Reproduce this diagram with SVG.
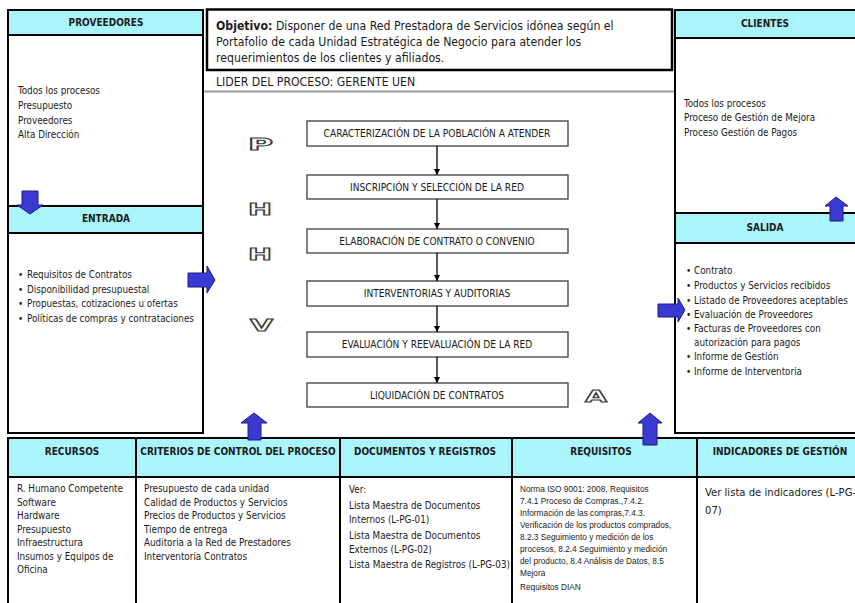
<svg xmlns="http://www.w3.org/2000/svg" width="855" height="603" viewBox="0 0 855 603">
  <style>
    .txt { font-family: "DejaVu Sans Condensed", "DejaVu Sans", sans-serif; font-size: 9.8px; fill: #1b1b1b; }
    .hdr { font-family: "DejaVu Sans Condensed", "DejaVu Sans", sans-serif; font-size: 10px; font-weight: bold; fill: #1b1b1b; text-anchor: middle; }
    .obj { font-family: "DejaVu Sans Condensed", "DejaVu Sans", sans-serif; font-size: 12.2px; fill: #1b1b1b; }
    .step { font-family: "DejaVu Sans Condensed", "DejaVu Sans", sans-serif; font-size: 10.1px; fill: #1b1b1b; text-anchor: middle; }
    .req { font-family: "Liberation Sans", Arial, sans-serif; font-size: 8.3px; fill: #1b1b1b; }
    .ind { font-family: "DejaVu Sans Condensed", "DejaVu Sans", sans-serif; font-size: 11.2px; fill: #1b1b1b; }
    .box { fill: #ffffff; stroke: #000000; stroke-width: 2; }
    .head { fill: #aaf4fc; stroke: #000000; stroke-width: 2; }
    .stepbox { fill: #ffffff; stroke: #4a4a4a; stroke-width: 1.4; }
    .flow { stroke: #000000; stroke-width: 1.3; fill: none; }
    .blk { fill: #3a3ad2; stroke: #1c1c8c; stroke-width: 1; }
    .phva { font-family: "DejaVu Sans", sans-serif; font-weight: bold; font-size: 16px; fill: #ffffff; stroke: #3a3a3a; stroke-width: 1; }
  </style>
  <defs>
    <marker id="tip" viewBox="0 0 10 10" refX="10" refY="5" markerWidth="6" markerHeight="6" orient="auto" markerUnits="userSpaceOnUse">
      <path d="M0,0 L10,5 L0,10 Z" fill="#000000"/>
    </marker>
  </defs>

  <rect width="855" height="603" fill="#ffffff"/>

  <!-- supplier / input column -->
  <g id="proveedores">
    <rect class="box" x="8" y="10" width="195" height="196"/>
    <rect class="head" x="8" y="10" width="195" height="25"/>
    <text class="hdr" x="106" y="26">PROVEEDORES</text>
    <text class="txt" x="18" y="94">Todos los procesos</text>
    <text class="txt" x="18" y="109">Presupuesto</text>
    <text class="txt" x="18" y="123.5">Proveedores</text>
    <text class="txt" x="18" y="138">Alta Dirección</text>
  </g>
  <g id="entrada">
    <rect class="box" x="8" y="206" width="195" height="227"/>
    <rect class="head" x="8" y="206" width="195" height="27"/>
    <text class="hdr" x="106" y="222">ENTRADA</text>
    <g class="txt">
      <text x="18" y="278">•</text><text x="27" y="278">Requisitos de Contratos</text>
      <text x="18" y="292.5">•</text><text x="27" y="292.5">Disponibilidad presupuestal</text>
      <text x="18" y="307">•</text><text x="27" y="307">Propuestas, cotizaciones u ofertas</text>
      <text x="18" y="322">•</text><text x="27" y="322">Políticas de compras y contrataciones</text>
    </g>
  </g>

  <!-- customer / output column -->
  <g id="clientes">
    <rect class="box" x="675" y="10" width="185" height="203"/>
    <rect class="head" x="675" y="10" width="185" height="28"/>
    <text class="hdr" x="765" y="27">CLIENTES</text>
    <text class="txt" x="684" y="106.5">Todos los procesos</text>
    <text class="txt" x="684" y="121">Proceso de Gestión de Mejora</text>
    <text class="txt" x="684" y="136">Proceso Gestión de Pagos</text>
  </g>
  <g id="salida">
    <rect class="box" x="675" y="213" width="185" height="220"/>
    <rect class="head" x="675" y="213" width="185" height="30"/>
    <text class="hdr" x="765" y="231">SALIDA</text>
    <g class="txt">
      <text x="686" y="274">•</text><text x="694" y="274">Contrato</text>
      <text x="686" y="289">•</text><text x="694" y="289">Productos y Servicios recibidos</text>
      <text x="686" y="304">•</text><text x="694" y="304">Listado de Proveedores aceptables</text>
      <text x="686" y="318">•</text><text x="694" y="318">Evaluación de Proveedores</text>
      <text x="686" y="332">•</text><text x="694" y="332">Facturas de Proveedores con</text>
      <text x="694" y="346">autorización para pagos</text>
      <text x="686" y="360">•</text><text x="694" y="360">Informe de Gestión</text>
      <text x="686" y="375">•</text><text x="694" y="375">Informe de Interventoria</text>
    </g>
  </g>

  <!-- objective and process owner -->
  <g id="objetivo">
    <rect x="207" y="9.5" width="465" height="60.5" fill="#ffffff" stroke="#000000" stroke-width="2.5"/>
    <text class="obj" x="216" y="30"><tspan font-weight="bold">Objetivo:</tspan> Disponer de una Red Prestadora de Servicios idónea según el</text>
    <text class="obj" x="216" y="46">Portafolio de cada Unidad Estratégica de Negocio para atender los</text>
    <text class="obj" x="216" y="62">requerimientos de los clientes y afiliados.</text>
  </g>
  <g id="lider">
    <text class="obj" x="216" y="86">LIDER DEL PROCESO: GERENTE UEN</text>
    <line x1="204" y1="91.5" x2="674" y2="91.5" stroke="#9a9a9a" stroke-width="2"/>
  </g>

  <!-- process steps -->
  <g id="paso1"><rect class="stepbox" x="307" y="121" width="261" height="25"/><text class="step" x="437" y="137">CARACTERIZACIÓN DE LA POBLACIÓN A ATENDER</text></g>
  <g id="paso2"><rect class="stepbox" x="307" y="175" width="261" height="24"/><text class="step" x="437" y="190.5">INSCRIPCIÓN Y SELECCIÓN DE LA RED</text></g>
  <g id="paso3"><rect class="stepbox" x="307" y="229" width="261" height="24"/><text class="step" x="437" y="244.5">ELABORACIÓN DE CONTRATO O CONVENIO</text></g>
  <g id="paso4"><rect class="stepbox" x="307" y="281" width="261" height="25"/><text class="step" x="437" y="297">INTERVENTORIAS Y AUDITORIAS</text></g>
  <g id="paso5"><rect class="stepbox" x="307" y="332" width="261" height="25"/><text class="step" x="437" y="348">EVALUACIÓN Y REEVALUACIÓN DE LA RED</text></g>
  <g id="paso6"><rect class="stepbox" x="307" y="383" width="261" height="24"/><text class="step" x="437" y="398.5">LIQUIDACIÓN DE CONTRATOS</text></g>

  <!-- PHVA cycle letters -->
  <g id="ciclo">
    <text class="phva" x="248" y="150" textLength="25" lengthAdjust="spacingAndGlyphs">P</text>
    <text class="phva" x="248" y="215" textLength="24" lengthAdjust="spacingAndGlyphs">H</text>
    <text class="phva" x="248" y="260" textLength="24" lengthAdjust="spacingAndGlyphs">H</text>
    <text class="phva" x="250" y="331" textLength="23" lengthAdjust="spacingAndGlyphs">V</text>
    <text class="phva" x="585" y="402" textLength="22" lengthAdjust="spacingAndGlyphs">A</text>
  </g>

  <!-- bottom table -->
  <g id="recursos">
    <rect class="box" x="8" y="438" width="128" height="170"/>
    <rect class="head" x="8" y="438" width="128" height="39"/>
    <text class="hdr" x="72" y="455">RECURSOS</text>
    <g class="txt">
      <text x="17" y="492">R. Humano Competente</text>
      <text x="17" y="505.5">Software</text>
      <text x="17" y="519">Hardware</text>
      <text x="17" y="532.5">Presupuesto</text>
      <text x="17" y="546">Infraestructura</text>
      <text x="17" y="559.5">Insumos y Equipos de</text>
      <text x="17" y="573">Oficina</text>
    </g>
  </g>
  <g id="criterios">
    <rect class="box" x="136" y="438" width="204" height="170"/>
    <rect class="head" x="136" y="438" width="204" height="39"/>
    <text class="hdr" x="238" y="455">CRITERIOS DE CONTROL DEL PROCESO</text>
    <g class="txt">
      <text x="144" y="492">Presupuesto de cada unidad</text>
      <text x="144" y="505.5">Calidad de Productos y Servicios</text>
      <text x="144" y="519">Precios de Productos y Servicios</text>
      <text x="144" y="532.5">Tiempo de entrega</text>
      <text x="144" y="546">Auditoria a la Red de Prestadores</text>
      <text x="144" y="559.5">Interventoria Contratos</text>
    </g>
  </g>
  <g id="documentos">
    <rect class="box" x="340" y="438" width="172" height="170"/>
    <rect class="head" x="340" y="438" width="172" height="39"/>
    <text class="hdr" x="425" y="455">DOCUMENTOS Y REGISTROS</text>
    <g class="txt">
      <text x="349" y="493">Ver:</text>
      <text x="349" y="508.5">Lista Maestra de Documentos</text>
      <text x="349" y="522.5">Internos (L-PG-01)</text>
      <text x="349" y="539">Lista Maestra de Documentos</text>
      <text x="349" y="552.5">Externos (L-PG-02)</text>
      <text x="349" y="568" textLength="161" lengthAdjust="spacingAndGlyphs">Lista Maestra de Registros (L-PG-03)</text>
    </g>
  </g>
  <g id="requisitos">
    <rect class="box" x="512" y="438" width="185" height="170"/>
    <rect class="head" x="512" y="438" width="185" height="39"/>
    <text class="hdr" x="601" y="455">REQUISITOS</text>
    <g class="req">
      <text x="520" y="492">Norma ISO 9001: 2008, Requisitos</text>
      <text x="520" y="504">7.4.1 Proceso de Compras.,7.4.2.</text>
      <text x="520" y="516">Información de las compras,7.4.3.</text>
      <text x="520" y="528">Verificación de los productos comprados,</text>
      <text x="520" y="540">8.2.3 Seguimiento y medición de los</text>
      <text x="520" y="552">procesos, 8.2.4 Seguimiento y medición</text>
      <text x="520" y="564">del producto, 8.4 Análisis de Datos, 8.5</text>
      <text x="520" y="576">Mejora</text>
      <text x="520" y="590">Requisitos DIAN</text>
    </g>
  </g>
  <g id="indicadores">
    <rect class="box" x="697" y="438" width="165" height="170"/>
    <rect class="head" x="697" y="438" width="165" height="39"/>
    <text class="hdr" x="780" y="455">INDICADORES DE GESTIÓN</text>
    <text class="ind" x="705" y="496">Ver lista de indicadores (L-PG-</text>
    <text class="ind" x="705" y="514">07)</text>
  </g>

  <!-- connectors -->
  <g id="conectores">
    <line class="flow" x1="437" y1="146" x2="437" y2="175" marker-end="url(#tip)"/>
    <line class="flow" x1="437" y1="199" x2="437" y2="229" marker-end="url(#tip)"/>
    <line class="flow" x1="437" y1="253" x2="437" y2="281" marker-end="url(#tip)"/>
    <line class="flow" x1="437" y1="306" x2="437" y2="332" marker-end="url(#tip)"/>
    <line class="flow" x1="437" y1="357" x2="437" y2="383" marker-end="url(#tip)"/>
    <path class="blk" d="M22,191 H38 V205 H43 L30,214 L17,205 H22 Z"/>
    <path class="blk" d="M188,273 H207 V266 L215,280 L207,293 V287 H188 Z"/>
    <path class="blk" d="M658,304 H678 V298 L685,310 L678,322 V317 H658 Z"/>
    <path class="blk" d="M830,221 V206 H825 L836,197 L848,206 H843 V221 Z"/>
    <path class="blk" d="M248,440 V423 H241 L254,413 L267,423 H261 V440 Z"/>
    <path class="blk" d="M643,445 V423 H638 L650,413 L662,423 H657 V445 Z"/>
  </g>
</svg>
